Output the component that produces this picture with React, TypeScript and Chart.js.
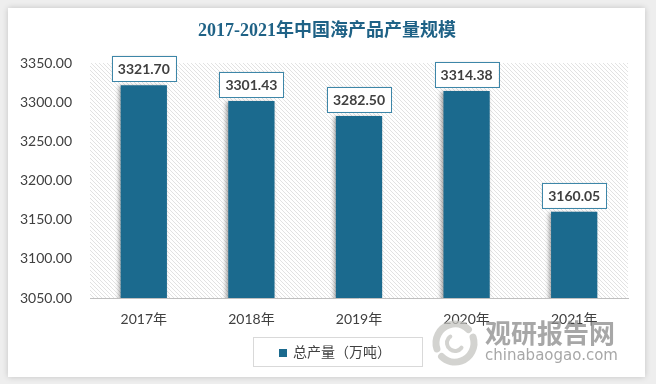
import React, { useEffect, useRef } from 'react';
import { Chart, registerables } from 'chart.js';
Chart.register(...registerables);

const chartTitle = '2017-2021年中国海产品产量规模';
const categories = ['2017年', '2018年', '2019年', '2020年', '2021年'];
const seriesName = '总产量（万吨）';
const production = [3321.7, 3301.43, 3282.5, 3314.38, 3160.05];
const yMin = 3050;
const yMax = 3350;
const yStep = 50;
const watermarkCn = '观研报告网';
const watermarkEn = 'chinabaogao.com';

const BAR = '#1b6a8e';
const TEXT = '#404040';
const SANS = "Lato, 'Noto Sans CJK SC', sans-serif";

export default function App() {
  const ref = useRef<HTMLCanvasElement>(null);
  useEffect(() => {
    const canvas = ref.current!;
    const S = 4;
    const pc = document.createElement('canvas');
    pc.width = S;
    pc.height = S;
    const p = pc.getContext('2d')!;
    p.fillStyle = '#ffffff';
    p.fillRect(0, 0, S, S);
    p.strokeStyle = '#e2e2e2';
    p.lineWidth = 1;
    p.beginPath();
    p.moveTo(-1, -1); p.lineTo(S + 1, S + 1);
    p.moveTo(-1, S - 1); p.lineTo(1, S + 1);
    p.moveTo(S - 1, -1); p.lineTo(S + 1, 1);
    p.stroke();

    const decor = {
      id: 'decor',
      beforeDraw(chart: any) {
        const { ctx, chartArea: a } = chart;
        const pat = ctx.createPattern(pc, 'repeat');
        ctx.save();
        ctx.fillStyle = pat;
        ctx.fillRect(a.left, a.top, a.right - a.left, a.bottom - a.top);
        ctx.restore();
      },
      beforeDatasetsDraw(chart: any) {
        const ctx = chart.ctx;
        ctx.save();
        ctx.shadowColor = 'rgba(0,0,0,0.35)';
        ctx.shadowBlur = 4;
        ctx.shadowOffsetX = -2;
        ctx.shadowOffsetY = 1;
      },
      afterDatasetsDraw(chart: any) {
        const ctx = chart.ctx;
        ctx.restore();
        const meta = chart.getDatasetMeta(0);
        const data = chart.data.datasets[0].data as number[];
        ctx.save();
        ctx.font = `bold 14px ${SANS}`;
        ctx.textAlign = 'center';
        ctx.textBaseline = 'middle';
        meta.data.forEach((bar: any, i: number) => {
          const txt = data[i].toFixed(2);
          const w = ctx.measureText(txt).width + 12;
          const h = 25;
          const x = bar.x - w / 2;
          const y = bar.y - 4 - h;
          ctx.shadowColor = 'rgba(0,0,0,0.15)';
          ctx.shadowBlur = 2;
          ctx.fillStyle = '#ffffff';
          ctx.fillRect(x, y, w, h);
          ctx.shadowColor = 'transparent';
          ctx.strokeStyle = '#3d86a8';
          ctx.lineWidth = 1;
          ctx.strokeRect(Math.round(x) + 0.5, Math.round(y) + 0.5, Math.round(w), h);
          ctx.fillStyle = TEXT;
          ctx.fillText(txt, bar.x, y + h / 2 + 1);
        });
        ctx.restore();
      },
      afterDraw(chart: any) {
        const ctx = chart.ctx;
        ctx.save();
        // title
        ctx.font = `bold 18px 'Liberation Serif', 'Noto Sans CJK SC', serif`;
        ctx.fillStyle = '#1f6286';
        ctx.textAlign = 'center';
        ctx.textBaseline = 'middle';
        ctx.fillText(chartTitle, 327, 31);
        // legend
        const lx = 253, ly = 337, lw = 169, lh = 29;
        ctx.strokeStyle = '#d9d9d9';
        ctx.lineWidth = 1;
        ctx.strokeRect(lx + 0.5, ly + 0.5, lw, lh);
        ctx.fillStyle = chart.data.datasets[0].backgroundColor;
        ctx.fillRect(279, 349, 8, 8);
        ctx.fillStyle = TEXT;
        ctx.font = `14px ${SANS}`;
        ctx.textAlign = 'left';
        ctx.fillText(chart.data.datasets[0].label, 293, 352);
        // watermark
        ctx.globalAlpha = 0.75;
        ctx.strokeStyle = '#c4c4c0';
        ctx.lineCap = 'round';
        ctx.lineWidth = 7;
        ctx.beginPath();
        ctx.arc(455, 343, 19, Math.PI * 0.9, Math.PI * 1.75);
        ctx.stroke();
        ctx.beginPath();
        ctx.arc(455, 343, 19, Math.PI * 1.9, Math.PI * 0.75);
        ctx.stroke();
        ctx.lineWidth = 4;
        ctx.beginPath();
        ctx.arc(455, 343, 8, Math.PI * 0.2, Math.PI * 1.3);
        ctx.stroke();
        ctx.fillStyle = '#8a8a8a';
        ctx.font = `bold 26px 'Noto Sans CJK SC', sans-serif`;
        ctx.textAlign = 'left';
        ctx.textBaseline = 'middle';
        ctx.fillText(watermarkCn, 485, 333);
        ctx.font = `15px 'DejaVu Sans', sans-serif`;
        ctx.fillText(watermarkEn, 485, 356);
        ctx.restore();
      },
    };

    const chart = new Chart(canvas, {
      type: 'bar',
      data: {
        labels: categories,
        datasets: [
          {
            label: seriesName,
            data: production,
            backgroundColor: BAR,
            borderWidth: 0,
            barPercentage: 0.43,
            categoryPercentage: 1,
          },
        ],
      },
      options: {
        responsive: false,
        animation: false,
        layout: { padding: { left: 0, right: 28, top: 63, bottom: 46 } },
        plugins: {
          legend: { display: false },
          title: { display: false },
          tooltip: { enabled: false },
        },
        scales: {
          x: {
            grid: { display: false, drawTicks: false },
            border: { display: true, color: '#bfbfbf', width: 1 },
            ticks: { color: TEXT, font: { family: SANS, size: 14 }, padding: 13, maxRotation: 0 },
            afterFit: (s: any) => { s.height = 40; },
          },
          y: {
            min: yMin,
            max: yMax,
            grid: { display: false, drawTicks: false },
            border: { display: false },
            ticks: {
              stepSize: yStep,
              color: TEXT,
              font: { family: SANS, size: 14 },
              padding: 18,
              callback: (v: any) => Number(v).toFixed(2),
            },
            afterFit: (s: any) => { s.width = 90; },
          },
        },
      },
      plugins: [decor],
    });
    return () => chart.destroy();
  }, []);

  return (
    <div style={{ position: 'fixed', left: 0, top: 0, width: 656, height: 384, background: '#eeeeee', overflow: 'hidden' }}>
      <div style={{ position: 'absolute', left: 8, top: 8, width: 637, height: 369, background: '#ffffff', boxShadow: '0 0 6px rgba(0,0,0,0.18)' }} />
      <canvas ref={ref} width={656} height={384} style={{ position: 'absolute', left: 0, top: 0, width: 656, height: 384 }} />
    </div>
  );
}
